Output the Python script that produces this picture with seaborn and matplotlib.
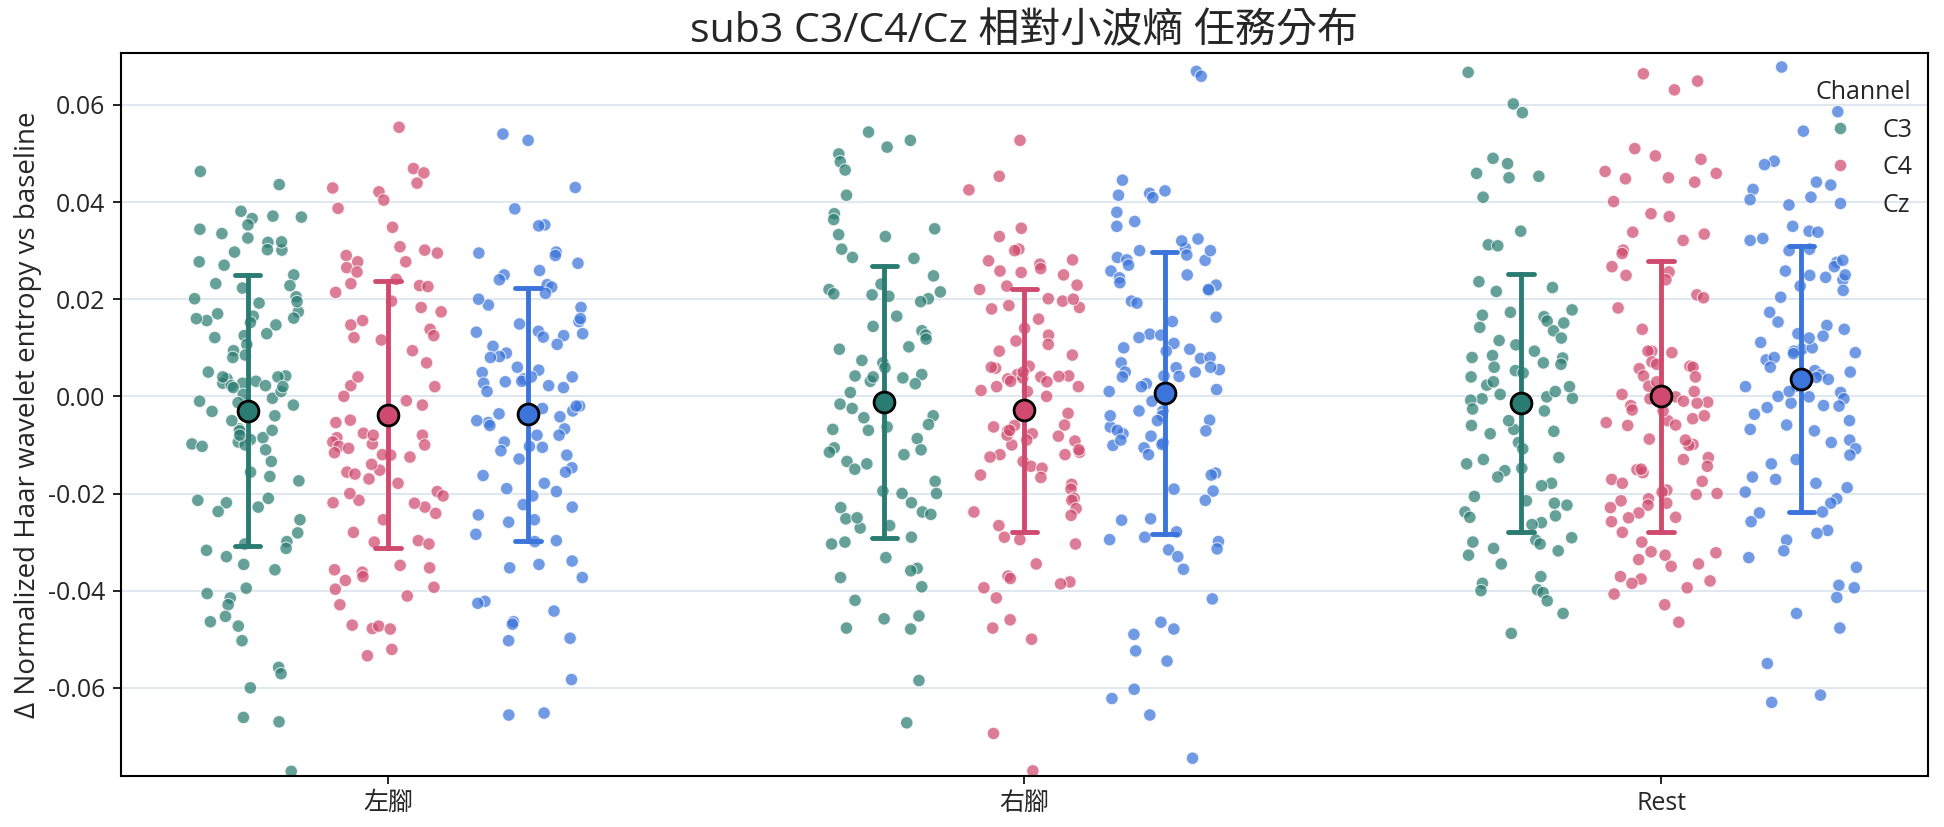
import numpy as np
import pandas as pd
import seaborn as sns
import matplotlib.pyplot as plt

tasks = ['左腳', '右腳', 'Rest']
channels = ['C3', 'C4', 'Cz']

c3_left = [0.0463, 0.0436, 0.0381, 0.0371, 0.0369, 0.0366, 0.0353, 0.0344, 0.0335, 0.0326, 0.0317, 0.0301,
           0.0297, 0.0277, 0.0270, 0.0250, 0.0232, 0.0223, 0.0205, 0.0201, 0.0192, 0.0174, 0.0170, 0.0165,
           0.0161, 0.0156, 0.0152, 0.0147, 0.0129, 0.0125, 0.0121, 0.0107, 0.0094, 0.0085, 0.0080, 0.0042,
           0.0040, 0.0036, 0.0031, 0.0027, 0.0027, 0.0022, 0.0022, 0.0018, 0.0004, -0.0004, -0.0013, -0.0018,
           -0.0031, -0.0040, -0.0067, -0.0071, -0.0085, -0.0089, -0.0094, -0.0098, -0.0103, -0.0134, -0.0156,
           -0.0165, -0.0174, -0.0210, -0.0214, -0.0219, -0.0228, -0.0237, -0.0254, -0.0281, -0.0299, -0.0304,
           -0.0313, -0.0317, -0.0330, -0.0346, -0.0357, -0.0395, -0.0406, -0.0415, -0.0429, -0.0453, -0.0464,
           -0.0473, -0.0503, -0.0558, -0.0571, -0.0600, -0.0661, -0.0670, -0.0772,
           0.0302, 0.0318, 0.0195, 0.0160, 0.0228,
           0.0040, -0.0100, 0.0010, -0.0070, 0.0050, -0.0110, -0.0010, -0.0050, 0.0020, -0.0080]
c4_left = [0.0554, 0.0469, 0.0460, 0.0439, 0.0429, 0.0421, 0.0404, 0.0387, 0.0348, 0.0308, 0.0301, 0.0295,
           0.0290, 0.0277, 0.0277, 0.0265, 0.0256, 0.0241, 0.0232, 0.0228, 0.0226, 0.0214, 0.0196, 0.0183,
           0.0174, 0.0156, 0.0147, 0.0138, 0.0125, 0.0121, 0.0116, 0.0094, 0.0069, 0.0022, -0.0009, -0.0018,
           -0.0040, -0.0049, -0.0054, -0.0076, -0.0080, -0.0085, -0.0094, -0.0098, -0.0103, -0.0107, -0.0116,
           -0.0121, -0.0125, -0.0152, -0.0156, -0.0170, -0.0179, -0.0196, -0.0205, -0.0214, -0.0219, -0.0228,
           -0.0241, -0.0254, -0.0297, -0.0304, -0.0348, -0.0353, -0.0357, -0.0362, -0.0371, -0.0379, -0.0393,
           -0.0397, -0.0411, -0.0429, -0.0478, -0.0473, -0.0471, -0.0479, -0.0521, -0.0534,
           -0.0220, -0.0200, -0.0280, -0.0140, -0.0300, -0.0160,
           0.0020, -0.0100, 0.0000, -0.0080, 0.0040, -0.0120]
cz_left = [0.0540, 0.0527, 0.0430, 0.0386, 0.0353, 0.0351, 0.0297, 0.0295, 0.0290, 0.0274, 0.0259, 0.0250,
           0.0230, 0.0225, 0.0212, 0.0188, 0.0183, 0.0154, 0.0149, 0.0134, 0.0132, 0.0129, 0.0125, 0.0122,
           0.0107, 0.0103, 0.0089, 0.0082, 0.0054, 0.0049, 0.0040, 0.0036, 0.0031, 0.0027, 0.0022, 0.0018,
           -0.0025, -0.0036, -0.0042, -0.0054, -0.0067, -0.0080, -0.0094, -0.0103, -0.0105, -0.0112, -0.0121,
           -0.0129, -0.0147, -0.0156, -0.0163, -0.0179, -0.0190, -0.0196, -0.0205, -0.0223, -0.0228, -0.0244,
           -0.0254, -0.0259, -0.0284, -0.0297, -0.0299, -0.0339, -0.0346, -0.0353, -0.0373, -0.0422, -0.0426,
           -0.0442, -0.0464, -0.0469, -0.0498, -0.0503, -0.0583, -0.0652, -0.0656,
           0.0200, 0.0240, 0.0160,
           0.0060, -0.0060, 0.0030, -0.0030, 0.0080, -0.0080, 0.0010, -0.0020, 0.0040, -0.0050, -0.0020]

c3_right = [0.0544, 0.0527, 0.0513, 0.0499, 0.0483, 0.0466, 0.0414, 0.0376, 0.0364, 0.0345, 0.0333, 0.0329,
            0.0303, 0.0286, 0.0284, 0.0248, 0.0231, 0.0220, 0.0215, 0.0211, 0.0209, 0.0206, 0.0201, 0.0195,
            0.0165, 0.0144, 0.0135, 0.0126, 0.0118, 0.0102, 0.0097, 0.0074, 0.0069, 0.0059, 0.0045, 0.0042,
            0.0038, 0.0031, 0.0026, 0.0008, -0.0011, -0.0016, -0.0025, -0.0040, -0.0044, -0.0058, -0.0063,
            -0.0068, -0.0087, -0.0106, -0.0110, -0.0115, -0.0120, -0.0134, -0.0139, -0.0175, -0.0195, -0.0200,
            -0.0219, -0.0229, -0.0238, -0.0243, -0.0252, -0.0266, -0.0271, -0.0290, -0.0304, -0.0332, -0.0354,
            -0.0359, -0.0373, -0.0392, -0.0420, -0.0452, -0.0458, -0.0477, -0.0479, -0.0585, -0.0672,
            -0.0200, -0.0250, -0.0150, -0.0300,
            -0.0010, 0.0040, -0.0070]
c4_right = [0.0527, 0.0453, 0.0425, 0.0346, 0.0329, 0.0303, 0.0281, 0.0279, 0.0272, 0.0263, 0.0258, 0.0255,
            0.0229, 0.0227, 0.0201, 0.0196, 0.0187, 0.0183, 0.0159, 0.0140, 0.0126, 0.0114, 0.0107, 0.0093,
            0.0085, 0.0062, 0.0058, 0.0045, 0.0042, 0.0041, 0.0038, 0.0036, 0.0031, 0.0020, 0.0012, -0.0035,
            -0.0059, -0.0063, -0.0071, -0.0077, -0.0082, -0.0092, -0.0115, -0.0120, -0.0125, -0.0134, -0.0144,
            -0.0148, -0.0162, -0.0167, -0.0181, -0.0191, -0.0210, -0.0214, -0.0231, -0.0238, -0.0245, -0.0266,
            -0.0290, -0.0295, -0.0304, -0.0345, -0.0370, -0.0375, -0.0382, -0.0386, -0.0394, -0.0415, -0.0460,
            -0.0477, -0.0500, -0.0694, -0.0771,
            0.0200, 0.0250, 0.0220, 0.0180, 0.0300,
            0.0040, -0.0100, 0.0020, -0.0080, 0.0060, -0.0120, 0.0000, -0.0060, 0.0030, -0.0090, 0.0010,
            -0.0070, 0.0050, -0.0110]
cz_right = [0.0669, 0.0659, 0.0445, 0.0423, 0.0418, 0.0414, 0.0409, 0.0379, 0.0360, 0.0324, 0.0305, 0.0291,
            0.0286, 0.0281, 0.0258, 0.0244, 0.0234, 0.0229, 0.0218, 0.0196, 0.0192, 0.0163, 0.0154, 0.0128,
            0.0126, 0.0121, 0.0109, 0.0097, 0.0093, 0.0078, 0.0069, 0.0059, 0.0055, 0.0050, 0.0042, 0.0041,
            0.0026, 0.0014, -0.0030, -0.0040, -0.0049, -0.0063, -0.0071, -0.0077, -0.0082, -0.0096, -0.0099,
            -0.0101, -0.0106, -0.0120, -0.0158, -0.0162, -0.0191, -0.0195, -0.0214, -0.0252, -0.0255, -0.0279,
            -0.0290, -0.0295, -0.0299, -0.0314, -0.0316, -0.0330, -0.0356, -0.0417, -0.0465, -0.0479, -0.0490,
            -0.0524, -0.0545, -0.0603, -0.0622, -0.0656, -0.0745,
            0.0300, 0.0280, 0.0250, 0.0320, 0.0220, 0.0350, 0.0270, 0.0300,
            0.0080, -0.0070, 0.0050, -0.0040, 0.0100, -0.0090, 0.0020, -0.0010, 0.0060, -0.0050, 0.0040,
            -0.0030, 0.0010]

c3_rest = [0.0667, 0.0602, 0.0584, 0.0490, 0.0479, 0.0459, 0.0453, 0.0450, 0.0410, 0.0340, 0.0312, 0.0310,
           0.0236, 0.0224, 0.0216, 0.0178, 0.0173, 0.0167, 0.0164, 0.0155, 0.0151, 0.0142, 0.0135, 0.0120,
           0.0115, 0.0106, 0.0093, 0.0084, 0.0079, 0.0069, 0.0066, 0.0053, 0.0048, 0.0023, 0.0004, -0.0001,
           -0.0004, -0.0005, -0.0008, -0.0026, -0.0068, -0.0072, -0.0077, -0.0095, -0.0108, -0.0126, -0.0130,
           -0.0139, -0.0148, -0.0153, -0.0166, -0.0179, -0.0184, -0.0206, -0.0215, -0.0220, -0.0224, -0.0238,
           -0.0246, -0.0249, -0.0260, -0.0264, -0.0291, -0.0296, -0.0300, -0.0304, -0.0313, -0.0318, -0.0327,
           -0.0345, -0.0371, -0.0385, -0.0398, -0.0404, -0.0421, -0.0447, -0.0488,
           -0.0400,
           0.0060, -0.0050, 0.0040, -0.0030, 0.0080, -0.0060, 0.0020, 0.0010, 0.0030]
c4_rest = [0.0664, 0.0649, 0.0631, 0.0510, 0.0495, 0.0488, 0.0463, 0.0459, 0.0450, 0.0448, 0.0441, 0.0401,
           0.0376, 0.0370, 0.0338, 0.0334, 0.0321, 0.0301, 0.0294, 0.0267, 0.0256, 0.0249, 0.0240, 0.0209,
           0.0203, 0.0182, 0.0138, 0.0093, 0.0093, 0.0071, 0.0066, 0.0062, 0.0057, 0.0042, 0.0021, 0.0004,
           -0.0001, -0.0005, -0.0012, -0.0014, -0.0019, -0.0028, -0.0046, -0.0050, -0.0054, -0.0059, -0.0088,
           -0.0099, -0.0101, -0.0126, -0.0130, -0.0144, -0.0151, -0.0157, -0.0171, -0.0175, -0.0179, -0.0193,
           -0.0197, -0.0202, -0.0211, -0.0215, -0.0224, -0.0229, -0.0240, -0.0249, -0.0258, -0.0322, -0.0327,
           -0.0336, -0.0345, -0.0371, -0.0376, -0.0380, -0.0385, -0.0394, -0.0407, -0.0429, -0.0465,
           -0.0250, -0.0300, -0.0220, -0.0350, -0.0280, -0.0320, -0.0200, -0.0150,
           0.0060, -0.0060, 0.0030, -0.0030, 0.0090, -0.0090, 0.0010, -0.0010, 0.0040, -0.0040]
cz_rest = [0.0678, 0.0586, 0.0546, 0.0484, 0.0477, 0.0435, 0.0441, 0.0426, 0.0410, 0.0405, 0.0394, 0.0340,
           0.0338, 0.0325, 0.0321, 0.0303, 0.0276, 0.0267, 0.0258, 0.0249, 0.0245, 0.0240, 0.0227, 0.0218,
           0.0204, 0.0173, 0.0153, 0.0146, 0.0138, 0.0129, 0.0124, 0.0111, 0.0097, 0.0093, 0.0088, 0.0075,
           0.0053, 0.0044, 0.0039, 0.0035, 0.0021, 0.0008, -0.0001, -0.0005, -0.0014, -0.0019, -0.0023,
           -0.0037, -0.0050, -0.0059, -0.0068, -0.0071, -0.0090, -0.0095, -0.0108, -0.0121, -0.0130, -0.0139,
           -0.0166, -0.0171, -0.0179, -0.0188, -0.0197, -0.0211, -0.0220, -0.0238, -0.0240, -0.0258, -0.0276,
           -0.0282, -0.0296, -0.0318, -0.0332, -0.0352, -0.0389, -0.0394, -0.0414, -0.0447, -0.0477, -0.0550,
           -0.0615, -0.0630,
           0.0300, 0.0280, 0.0350, 0.0250,
           0.0100, 0.0000, 0.0080, 0.0020, 0.0120, -0.0020, 0.0060, 0.0040, 0.0090, 0.0010, 0.0050]

palette = {'C3': '#2a7b72', 'C4': '#cf4a6e', 'Cz': '#3b74db'}

groups = {
    ('左腳', 'C3'): c3_left, ('左腳', 'C4'): c4_left, ('左腳', 'Cz'): cz_left,
    ('右腳', 'C3'): c3_right, ('右腳', 'C4'): c4_right, ('右腳', 'Cz'): cz_right,
    ('Rest', 'C3'): c3_rest, ('Rest', 'C4'): c4_rest, ('Rest', 'Cz'): cz_rest,
}
rows = [(task, ch, v) for (task, ch), vals in groups.items() for v in vals]
df = pd.DataFrame(rows, columns=['Task', 'Channel', 'value'])

# place the three channels side by side inside each task
step = 0.22
df['pos'] = (df['Task'].map({t: i for i, t in enumerate(tasks)})
             + df['Channel'].map({c: (j - 1) * step for j, c in enumerate(channels)}))

sns.set_theme(style='white')
plt.rcParams['font.family'] = ['Open Sans', 'Noto Sans CJK TC', 'DejaVu Sans']
plt.rcParams['axes.unicode_minus'] = False

fig, ax = plt.subplots(figsize=(19.44, 8.27), dpi=100)
fig.subplots_adjust(left=0.062, right=0.992, top=0.936, bottom=0.062)

np.random.seed(7)
sns.stripplot(data=df, x='pos', y='value', hue='Channel', hue_order=channels, palette=palette,
              native_scale=True, jitter=0.4, size=9, alpha=0.72, edgecolor='white', linewidth=0.8,
              zorder=2, ax=ax)
# mean +/- sd bars
sns.pointplot(data=df, x='pos', y='value', hue='Channel', hue_order=channels, palette=palette,
              native_scale=True, errorbar='sd', capsize=0.18, linestyle='none', marker='',
              err_kws={'linewidth': 3.5, 'linestyle': '-'}, legend=False, ax=ax)
# mean markers on top
sns.pointplot(data=df, x='pos', y='value', hue='Channel', hue_order=channels, palette=palette,
              native_scale=True, errorbar=None, linestyle='none', marker='o', markersize=15,
              markeredgecolor='black', markeredgewidth=2, legend=False, ax=ax)
for line in ax.lines:
    if line.get_marker() == 'o':
        line.set_zorder(5)

ax.set_xticks(range(len(tasks)), tasks)
ax.set_xlim(-0.42, 2.42)
ax.set_ylim(-0.0781, 0.0707)
ax.set_yticks(np.arange(-0.06, 0.061, 0.02))
ax.yaxis.set_major_formatter(plt.FormatStrFormatter('%.2f'))
ax.yaxis.grid(True, color='#d9e3ee', linewidth=1.2)
ax.set_axisbelow(True)
ax.tick_params(axis='both', left=True, bottom=True, length=6, width=1.2, labelsize=18, color='black',
               pad=5)
for s in ax.spines.values():
    s.set_color('black')
    s.set_linewidth(1.5)

ax.set_xlabel('')
ax.set_ylabel('Δ Normalized Haar wavelet entropy vs baseline', fontsize=20)
ax.set_title('sub3 C3/C4/Cz 相對小波熵 任務分布', fontsize=29.5, pad=8)

sns.move_legend(ax, 'upper right', bbox_to_anchor=(1.0, 0.985), frameon=False, title='Channel',
                fontsize=18, title_fontsize=18, handletextpad=0.7, labelspacing=0.5, borderaxespad=0.25)

fig.savefig('out.png', dpi=100)
